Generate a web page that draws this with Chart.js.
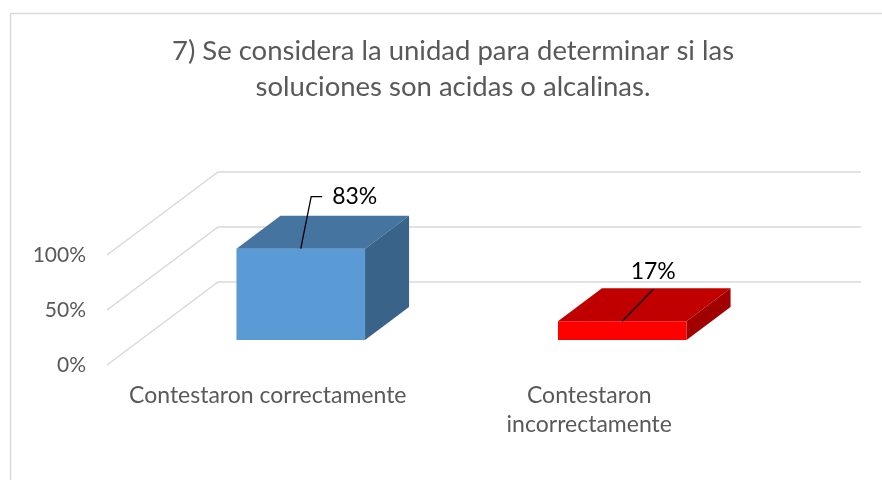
<!DOCTYPE html>
<html>
<head>
<meta charset="utf-8">
<script src="https://cdn.jsdelivr.net/npm/chart.js@4.4.1/dist/chart.umd.min.js"></script>
<style>
  html, body { margin: 0; padding: 0; background: #fff; }
  #wrap { width: 882px; height: 480px; }
</style>
</head>
<body>
<div id="wrap"><canvas id="chart"></canvas></div>
<script>
const titleLines = ['7) Se considera la unidad para determinar si las', 'soluciones son acidas o alcalinas.'];
const categories = [['Contestaron correctamente'], ['Contestaron', 'incorrectamente']];
const percentages = [83, 17];
const yTickStep = 50;
const yMax = 100;

// styling
const frontColors = ['#5B9BD5', '#FF0000'];
const topColors = ['#44749F', '#C00000'];
const sideColors = ['#3A6389', '#A00000'];
const labelShift = [[54, -52], [31, -50]];   // data label centre, relative to bar top
const DEPTH = { dx: 44, dy: -33 };   // bar depth
const WALL = { dx: 78, dy: -58 };    // back wall, relative to bar front plane
const FRONT = { dx: -33, dy: 25 };   // front edge of the floor
const GRID = '#D9D9D9';
const TEXT = '#595959';
const FONT = 'Lato';

function poly(ctx, pts, color) {
  ctx.beginPath();
  ctx.moveTo(pts[0][0], pts[0][1]);
  pts.slice(1).forEach(p => ctx.lineTo(p[0], p[1]));
  ctx.closePath();
  ctx.fillStyle = color;
  ctx.fill();
}

const fake3d = {
  id: 'fake3d',
  beforeDraw(chart) {
    const { ctx } = chart;
    ctx.save();
    ctx.fillStyle = '#fff';
    ctx.fillRect(0, 0, chart.width, chart.height);
    ctx.strokeStyle = GRID;
    ctx.lineWidth = 1.5;
    ctx.strokeRect(10.5, 13.5, chart.width, chart.height);
    ctx.restore();
  },
  beforeDatasetsDraw(chart) {
    const { ctx, chartArea: a, scales: { y } } = chart;
    ctx.save();
    ctx.strokeStyle = GRID;
    ctx.lineWidth = 1.5;
    ctx.fillStyle = TEXT;
    ctx.font = `21px ${FONT}`;
    ctx.textAlign = 'right';
    ctx.textBaseline = 'middle';
    y.ticks.forEach(t => {
      const py = y.getPixelForValue(t.value);
      ctx.beginPath();
      ctx.moveTo(a.left + FRONT.dx, py + FRONT.dy);
      ctx.lineTo(a.left + WALL.dx, py + WALL.dy);
      ctx.lineTo(a.right + WALL.dx, py + WALL.dy);
      ctx.stroke();
      // tick label sits at the front edge of the floor
      ctx.fillText(t.value + '%', a.left + FRONT.dx - 21, py + FRONT.dy);
    });
    ctx.restore();
  },
  afterDatasetsDraw(chart) {
    const { ctx } = chart;
    const meta = chart.getDatasetMeta(0);
    ctx.save();
    meta.data.forEach((bar, i) => {
      const { x, y, base, width } = bar.getProps(['x', 'y', 'base', 'width'], true);
      const x0 = x - width / 2, x1 = x + width / 2;
      poly(ctx, [[x0, y], [x1, y], [x1 + DEPTH.dx, y + DEPTH.dy], [x0 + DEPTH.dx, y + DEPTH.dy]], topColors[i]);
      poly(ctx, [[x1, y], [x1, base], [x1 + DEPTH.dx, base + DEPTH.dy], [x1 + DEPTH.dx, y + DEPTH.dy]], sideColors[i]);

      // data label with leader line
      const text = percentages[i] + '%';
      ctx.font = `23px ${FONT}`;
      const w = ctx.measureText(text).width + 20;
      const h = 36;
      const cx = x + labelShift[i][0];
      const cy = y + labelShift[i][1];
      ctx.strokeStyle = '#000';
      ctx.lineWidth = 1.3;
      ctx.beginPath();
      ctx.moveTo(x, y);
      if (x < cx - w / 2) {
        ctx.lineTo(cx - w / 2 - 11, cy);
        ctx.lineTo(cx - w / 2, cy);
      } else {
        ctx.lineTo(cx, cy + h / 2);
      }
      ctx.stroke();
      ctx.fillStyle = '#000';
      ctx.textAlign = 'center';
      ctx.textBaseline = 'middle';
      ctx.fillText(text, cx, cy);
    });
    ctx.restore();
  }
};

new Chart(document.getElementById('chart'), {
  type: 'bar',
  data: {
    labels: categories,
    datasets: [{
      data: percentages,
      backgroundColor: frontColors,
      borderWidth: 0,
      barPercentage: 0.4,
      categoryPercentage: 1
    }]
  },
  options: {
    responsive: true,
    maintainAspectRatio: false,
    animation: false,
    devicePixelRatio: 1,
    layout: { padding: { left: 123, right: 99, top: 0, bottom: 0 } },
    plugins: {
      legend: { display: false },
      tooltip: { enabled: false },
      title: {
        display: true,
        text: titleLines,
        color: TEXT,
        font: { family: FONT, size: 27.5, weight: 'normal', lineHeight: 1.309 },
        padding: { top: 33.4, bottom: 124.6 }
      }
    },
    scales: {
      x: {
        grid: { display: false, drawTicks: false },
        border: { display: false },
        ticks: {
          color: TEXT,
          font: { family: FONT, size: 23, lineHeight: 1.26 },
          padding: 41,
          labelOffset: FRONT.dx,
          maxRotation: 0,
          autoSkip: false
        },
        afterFit(s) { s.height = 140; }
      },
      y: {
        min: 0,
        max: yMax,
        grid: { display: false, drawTicks: false },
        border: { display: false },
        ticks: { stepSize: yTickStep, display: false },
        afterFit(s) { s.width = 17; }
      }
    }
  },
  plugins: [fake3d]
});
</script>
</body>
</html>
